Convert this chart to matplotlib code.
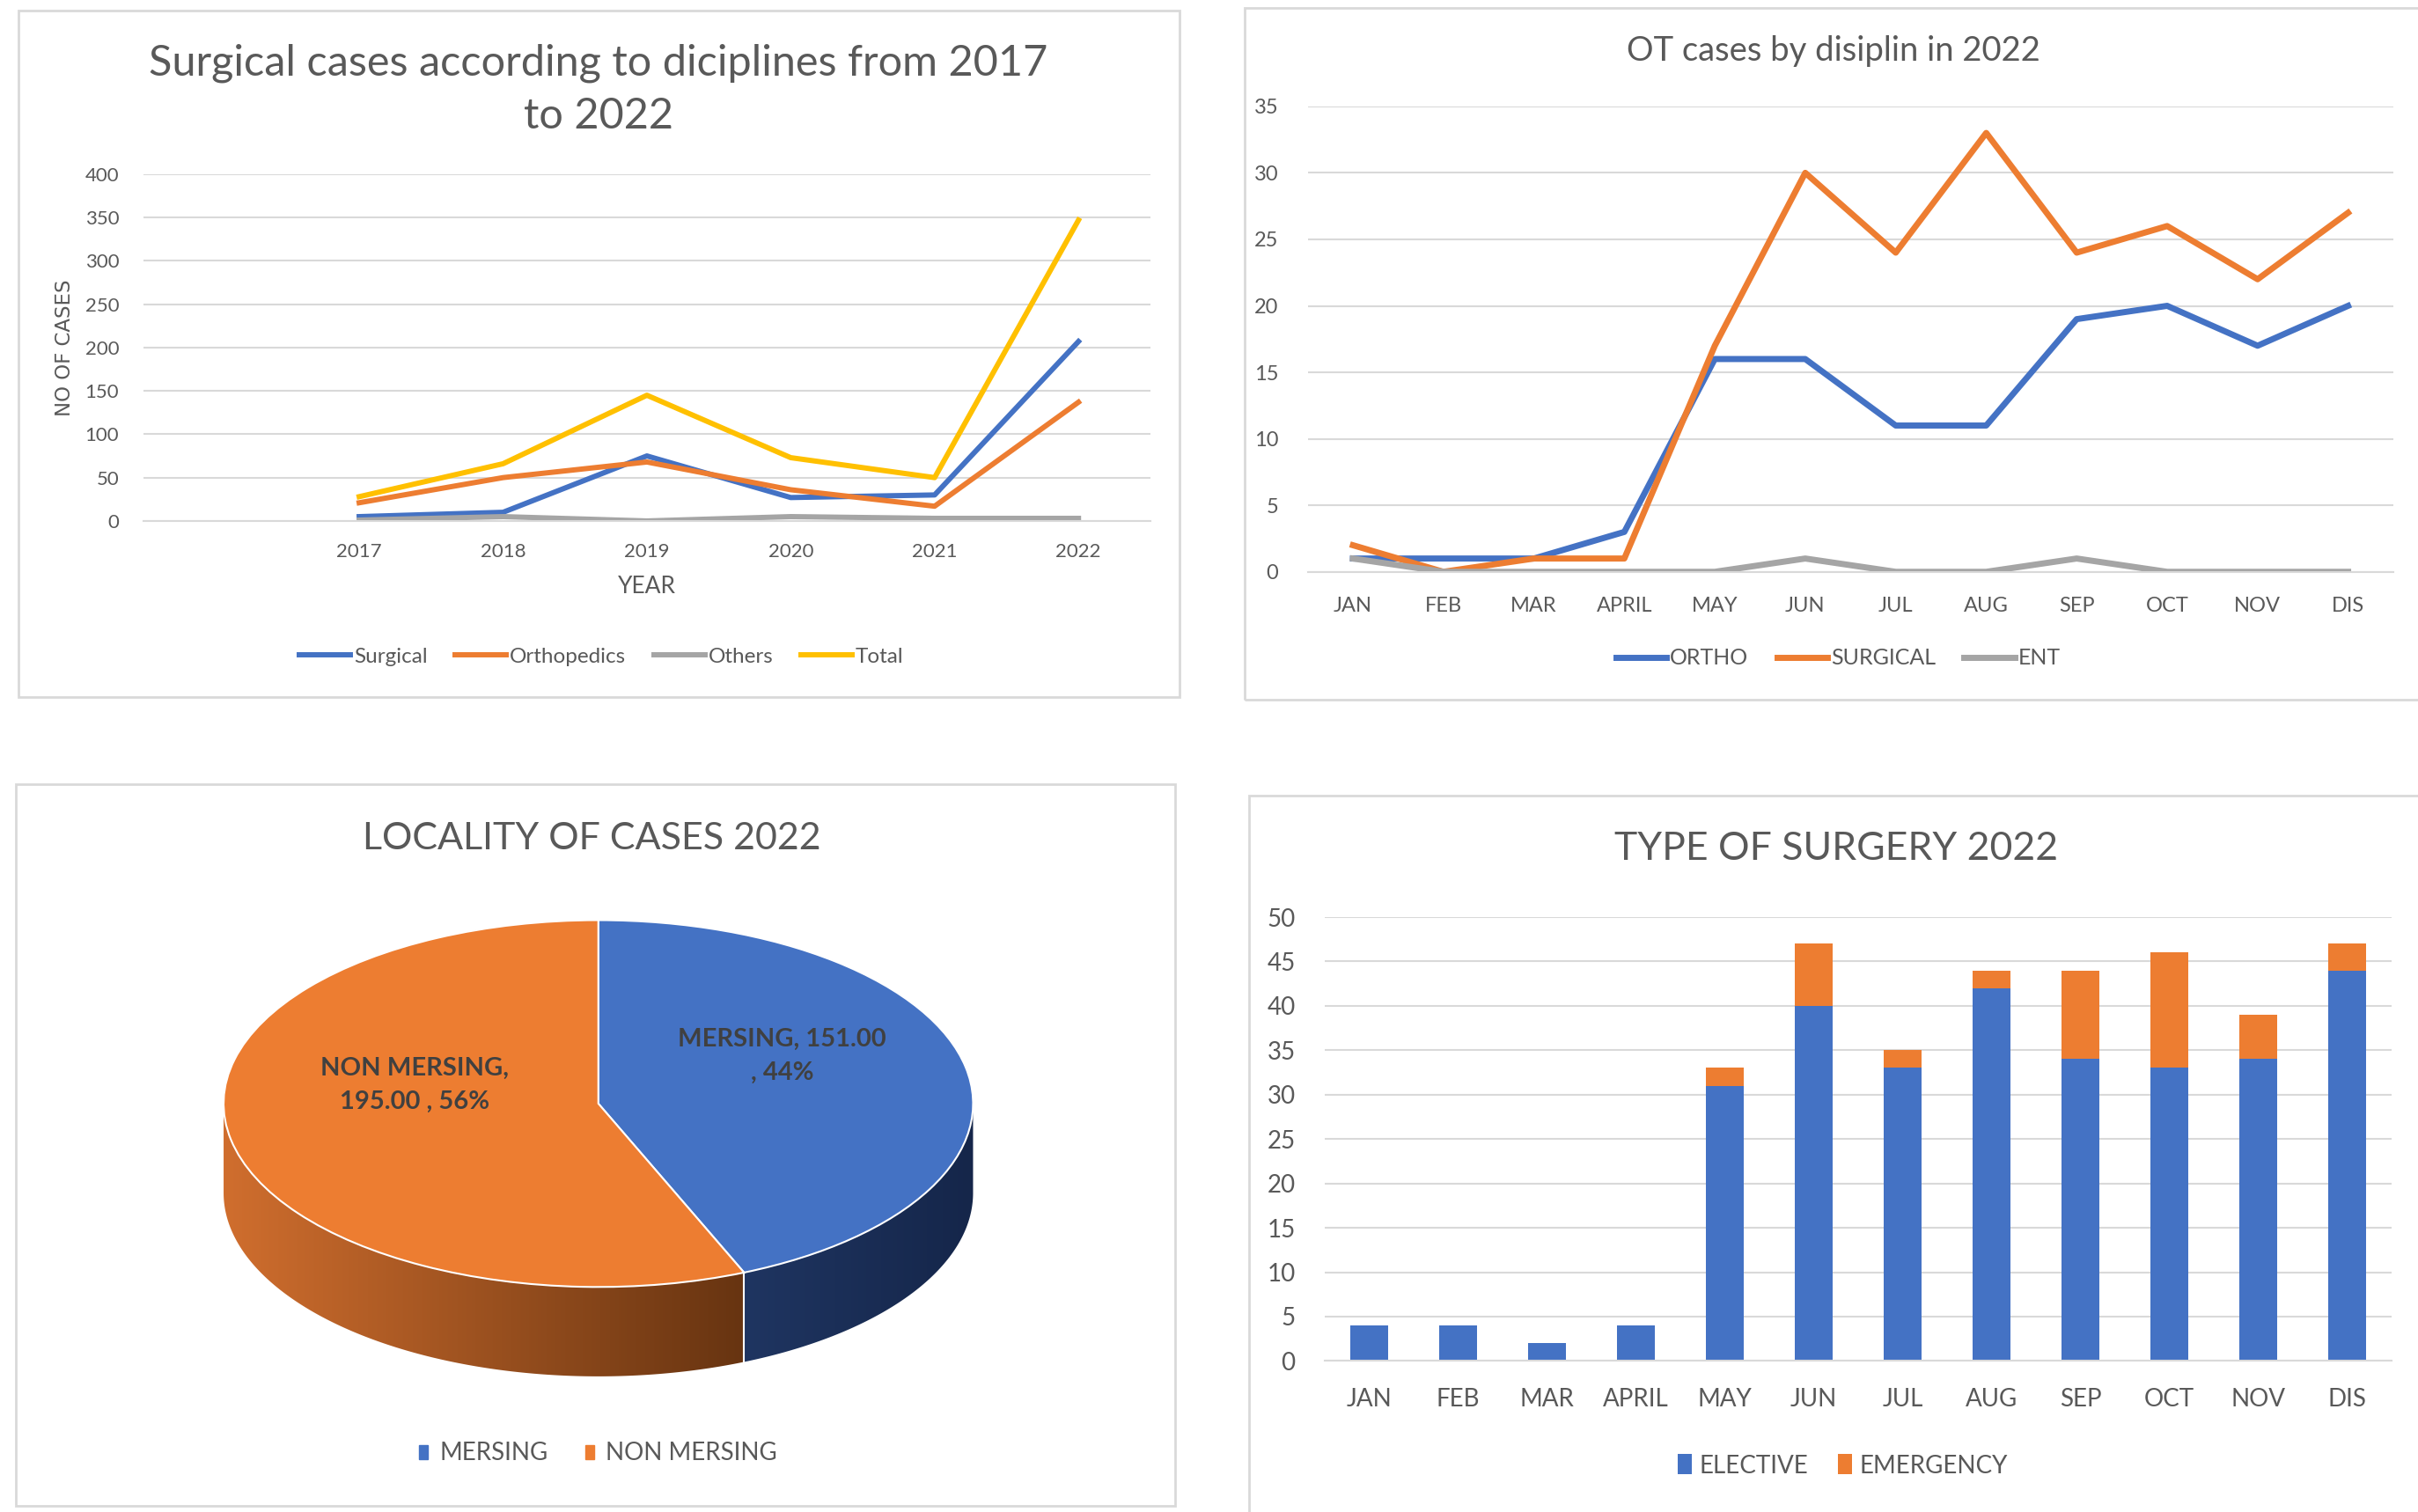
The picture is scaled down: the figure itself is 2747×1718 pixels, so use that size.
import numpy as np
import matplotlib.pyplot as plt
from matplotlib.patches import Rectangle, Polygon, Patch
from matplotlib.colors import LinearSegmentedColormap

plt.rcParams['font.family'] = ['Lato', 'DejaVu Sans']

# data
years = ['2017', '2018', '2019', '2020', '2021', '2022']
surgical_yr = [5, 10, 75, 27, 30, 207]
ortho_yr = [21, 50, 68, 36, 17, 137]
others_yr = [1, 5, 0, 5, 3, 3]
total_yr = [28, 66, 145, 73, 50, 347]

months = ['JAN', 'FEB', 'MAR', 'APRIL', 'MAY', 'JUN', 'JUL', 'AUG', 'SEP', 'OCT', 'NOV', 'DIS']
ortho_m = [1, 1, 1, 3, 16, 16, 11, 11, 19, 20, 17, 20]
surgical_m = [2, 0, 1, 1, 17, 30, 24, 33, 24, 26, 22, 27]
ent_m = [1, 0, 0, 0, 0, 1, 0, 0, 1, 0, 0, 0]

locality = ['MERSING', 'NON MERSING']
locality_n = [151, 195]

elective = [4, 4, 2, 4, 31, 40, 33, 42, 34, 33, 34, 44]
emergency = [0, 0, 0, 0, 2, 7, 2, 2, 10, 13, 5, 3]

BLUE = '#4472C4'
ORANGE = '#ED7D31'
GRAY = '#A5A5A5'
YELLOW = '#FFC000'
TXT = '#595959'
GRID = '#D9D9D9'

W, H = 1568.0, 981.0


def rect(x0, y0, x1, y1):
    return [x0 / W, 1 - y1 / H, (x1 - x0) / W, (y1 - y0) / H]


def pt(x, y):
    return (x / W, 1 - y / H)


def style(ax, size):
    for s in ['top', 'left', 'right']:
        ax.spines[s].set_visible(False)
    ax.spines['bottom'].set_color(GRID)
    ax.spines['bottom'].set_linewidth(1.5)
    ax.yaxis.grid(True, color=GRID, lw=1.5)
    ax.set_axisbelow(True)
    ax.tick_params(length=0, labelsize=size, labelcolor=TXT)


fig = plt.figure(figsize=(27.47, 17.18), dpi=100)

# panel frames
for b in [(12, 7, 765, 452), (807, 5, 1575, 454), (10, 509, 762, 977), (810, 516, 1575, 990)]:
    r = rect(*b)
    fig.add_artist(Rectangle((r[0], r[1]), r[2], r[3], transform=fig.transFigure,
                             fill=False, ec=GRID, lw=2))

# top left: yearly lines
ax1 = fig.add_axes(rect(93, 113, 746, 338))
style(ax1, 16)
x = np.arange(len(years))
ax1.plot(x, surgical_yr, color=BLUE, lw=4.3, label='Surgical')
ax1.plot(x, ortho_yr, color=ORANGE, lw=4.3, label='Orthopedics')
ax1.plot(x, others_yr, color=GRAY, lw=4.3, label='Others')
ax1.plot(x, total_yr, color=YELLOW, lw=4.3, label='Total')
ax1.set_xlim(-1.5, 5.5)
ax1.set_ylim(0, 400)
ax1.set_yticks(range(0, 401, 50))
ax1.set_xticks(x)
ax1.set_xticklabels(years)
ax1.tick_params(axis='y', pad=20)
ax1.tick_params(axis='x', pad=18)
ax1.set_xlabel('YEAR', fontsize=19, color=TXT, labelpad=12)
ax1.set_ylabel('NO OF CASES', fontsize=16.5, color=TXT, family=['DejaVu Sans'], labelpad=8)
fig.text(*pt(388, 58), 'Surgical cases according to diciplines from 2017\nto 2022', ha='center',
         va='center', fontsize=35, color=TXT, linespacing=1.45)
fig.legend(*ax1.get_legend_handles_labels(), loc='center', bbox_to_anchor=pt(390, 426), ncol=4,
           frameon=False, fontsize=17.5, labelcolor=TXT, handlelength=2.4, handletextpad=0.15,
           columnspacing=1.3)

# top right: monthly lines
ax2 = fig.add_axes(rect(848, 69, 1552, 371))
style(ax2, 17)
m = np.arange(len(months))
ax2.plot(m, ortho_m, color=BLUE, lw=5, label='ORTHO')
ax2.plot(m, surgical_m, color=ORANGE, lw=5, label='SURGICAL')
ax2.plot(m, ent_m, color=GRAY, lw=5, label='ENT')
ax2.set_xlim(-0.5, 11.5)
ax2.set_ylim(0, 35)
ax2.set_yticks(range(0, 36, 5))
ax2.set_xticks(m)
ax2.set_xticklabels(months)
ax2.tick_params(axis='y', pad=24)
ax2.tick_params(axis='x', pad=20)
fig.text(*pt(1189, 33), 'OT cases by disiplin in 2022', ha='center', va='center', fontsize=27.5,
         color=TXT)
fig.legend(*ax2.get_legend_handles_labels(), loc='center', bbox_to_anchor=pt(1192, 427), ncol=3,
           frameon=False, fontsize=18, labelcolor=TXT, handlelength=2.3, handletextpad=0.15,
           columnspacing=1.3)

# bottom right: stacked bars
ax4 = fig.add_axes(rect(859, 595, 1551, 883))
style(ax4, 20)
ax4.bar(m, elective, width=0.43, color=BLUE, label='ELECTIVE')
ax4.bar(m, emergency, width=0.43, bottom=elective, color=ORANGE, label='EMERGENCY')
ax4.set_xlim(-0.5, 11.5)
ax4.set_ylim(0, 50)
ax4.set_yticks(range(0, 51, 5))
ax4.set_xticks(m)
ax4.set_xticklabels(months)
ax4.tick_params(axis='y', pad=24)
ax4.tick_params(axis='x', pad=22)
fig.text(*pt(1191, 551), 'TYPE OF SURGERY 2022', ha='center', va='center', fontsize=32, color=TXT)
fig.legend(*ax4.get_legend_handles_labels(), loc='center', bbox_to_anchor=pt(1195, 951), ncol=2,
           frameon=False, fontsize=20, labelcolor=TXT, handlelength=0.6, handleheight=0.9,
           handletextpad=0.3, columnspacing=1.2)

# bottom left: 3D-looking pie
cx, cy, rx, ry = 388, 716, 243, 119
ax3 = fig.add_axes(rect(cx - 1.2 * rx, cy - 1.2 * ry, cx + 1.2 * rx, cy + 1.8 * ry))
ax3.axis('off')
depth = 58.0 / ry
total = sum(locality_n)
split = 90 - 360.0 * locality_n[0] / total


def side(a0, a1, c0, c1):
    t = np.radians(np.linspace(a0, a1, 200))
    top = np.column_stack([np.cos(t), np.sin(t)])
    bot = np.column_stack([np.cos(t[::-1]), np.sin(t[::-1]) - depth])
    poly = Polygon(np.vstack([top, bot]), closed=True, fc='none', ec='none')
    ax3.add_patch(poly)
    xs = np.cos(t)
    cmap = LinearSegmentedColormap.from_list('g', [c0, c1])
    grad = np.linspace(0, 1, 256).reshape(1, -1)
    im = ax3.imshow(grad, cmap=cmap, aspect='auto', zorder=1,
                    extent=[xs.min(), xs.max(), -1 - depth, 0.1])
    im.set_clip_path(poly)


side(-180, split, '#D06E2E', '#673411')
side(split, 0, '#1F3561', '#15264A')
ax3.plot([np.cos(np.radians(split))] * 2,
         [np.sin(np.radians(split)), np.sin(np.radians(split)) - depth], color='white', lw=1.5, zorder=3)
wedges, _ = ax3.pie(locality_n, colors=[BLUE, ORANGE], startangle=90, counterclock=False,
                    wedgeprops=dict(edgecolor='white', linewidth=1.5))
for w in wedges:
    w.set_zorder(2)
ax3.set_aspect('auto')
ax3.set_xlim(-1.2, 1.2)
ax3.set_ylim(-1.8, 1.2)

start = 90
for name, n in zip(locality, locality_n):
    ang = start - 180.0 * n / total
    start -= 360.0 * n / total
    a = np.radians(ang)
    pct = round(100.0 * n / total)
    if name == 'MERSING':
        lab = f'{name}, {n:.2f}\n, {pct}%'
        dy = 0.16
    else:
        lab = f'{name},\n{n:.2f} , {pct}%'
        dy = 0.2
    ax3.text(0.5 * np.cos(a), 0.5 * np.sin(a) + dy, lab, ha='center', va='center',
             fontsize=21, fontweight='bold', color='#404040', linespacing=1.6, zorder=4)

fig.text(*pt(384, 544), 'LOCALITY OF CASES 2022', ha='center', va='center', fontsize=31, color=TXT)
fig.legend(handles=[Patch(color=BLUE), Patch(color=ORANGE)], labels=locality, loc='center',
           bbox_to_anchor=pt(388, 943), ncol=2, frameon=False, fontsize=20, labelcolor=TXT,
           handlelength=0.35, handleheight=0.5, handletextpad=0.5, columnspacing=1.5)

fig.savefig('out.png', dpi=100, facecolor='white')
